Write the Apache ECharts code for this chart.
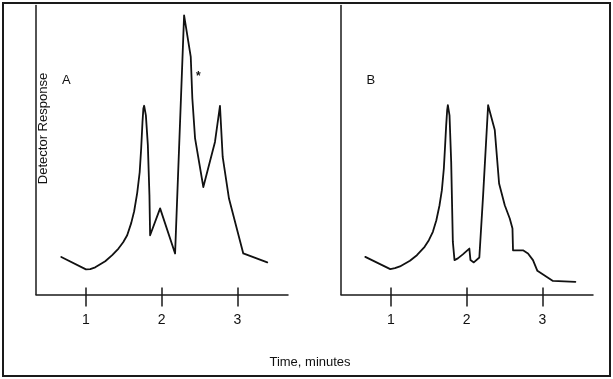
<!DOCTYPE html>
<html>
<head>
<meta charset="utf-8">
<script src="https://cdn.jsdelivr.net/npm/echarts@6/dist/echarts.min.js"></script>
<style>
html,body{margin:0;padding:0;background:#fff;}
#chart{width:613px;height:379px;}
</style>
</head>
<body>
<div id="chart"></div>
<script>
// Panel A: time (minutes) and detector response (arbitrary units)
var timeA = [0.674, 1.000, 1.057, 1.123, 1.255, 1.347, 1.430, 1.492, 1.545, 1.598, 1.637, 1.677, 1.710, 1.730, 1.747, 1.759, 1.769, 1.792, 1.818, 1.839, 1.848, 1.980, 2.178, 2.297, 2.385, 2.406, 2.442, 2.551, 2.705, 2.771, 2.807, 2.890, 3.079, 3.396];
var respA = [13.0, 8.7, 8.8, 9.4, 11.5, 13.6, 15.9, 18.1, 20.5, 24.7, 28.8, 35.1, 42.3, 50.6, 59.6, 64.4, 65.3, 62.0, 51.7, 34.4, 20.5, 29.8, 14.2, 96.6, 82.2, 67.8, 54.0, 37.2, 52.8, 65.3, 47.6, 33.2, 14.2, 11.1];
// Panel B
var timeB = [0.661, 0.991, 1.053, 1.119, 1.251, 1.343, 1.445, 1.501, 1.554, 1.600, 1.642, 1.673, 1.699, 1.716, 1.730, 1.743, 1.752, 1.774, 1.796, 1.818, 1.840, 1.884, 1.950, 2.036, 2.051, 2.095, 2.168, 2.218, 2.284, 2.372, 2.429, 2.504, 2.570, 2.606, 2.613, 2.745, 2.811, 2.877, 2.935, 3.141, 3.437];
var respB = [13.0, 8.8, 9.1, 9.7, 11.7, 13.6, 16.5, 18.8, 21.7, 25.7, 30.9, 36.1, 43.6, 51.7, 58.6, 63.8, 65.5, 62.0, 45.9, 18.2, 11.9, 12.5, 13.9, 15.9, 11.9, 11.1, 12.8, 34.4, 65.5, 56.9, 38.4, 30.9, 26.3, 22.8, 15.3, 15.3, 14.2, 11.9, 8.2, 4.7, 4.4];
var tickValues = [1, 2, 3];
var xMin = 0.34, xMax = 3.67;
var yMin = 0, yMax = 100;
var panelLabels = ['A', 'B'];
var xName = 'Time, minutes';
var yName = 'Detector Response';

function zip(a, b) { return a.map(function (v, i) { return [v, b[i]]; }); }

var FONT = "'Liberation Sans', Arial, sans-serif";
var INK = '#1a1a1a';

function xAxesFor(gi) {
  return [
    {
      gridIndex: gi, type: 'value', position: 'bottom', min: xMin, max: xMax,
      axisLine: { show: true, lineStyle: { color: INK, width: 1.5 } },
      axisTick: { show: true, inside: false, length: 12, customValues: tickValues, lineStyle: { color: INK, width: 1.5 } },
      axisLabel: { show: true, customValues: tickValues, margin: 19, fontSize: 14, color: '#111', fontFamily: FONT },
      splitLine: { show: false }
    },
    {
      gridIndex: gi, type: 'value', position: 'bottom', min: xMin, max: xMax,
      axisLine: { show: false },
      axisTick: { show: true, inside: true, length: 7, customValues: tickValues, lineStyle: { color: INK, width: 1.5 } },
      axisLabel: { show: false },
      splitLine: { show: false }
    }
  ];
}
function yAxisFor(gi) {
  return {
    gridIndex: gi, type: 'value', min: yMin, max: yMax,
    axisLine: { show: true, lineStyle: { color: INK, width: 1.5 } },
    axisTick: { show: false }, axisLabel: { show: false }, splitLine: { show: false }
  };
}
function seriesFor(idx, t, r) {
  return {
    type: 'line', xAxisIndex: idx * 2, yAxisIndex: idx,
    data: zip(t, r), showSymbol: false, smooth: false,
    lineStyle: { color: '#111', width: 1.8, join: 'round', cap: 'round' }, silent: true
  };
}

var chart = echarts.init(document.getElementById('chart'), null, { renderer: 'canvas' });
chart.setOption({
  animation: false,
  backgroundColor: '#fff',
  grid: [
    { left: 36, top: 5.5, width: 252, height: 289 },
    { left: 341, top: 5.5, width: 252, height: 289 }
  ],
  xAxis: xAxesFor(0).concat(xAxesFor(1)),
  yAxis: [yAxisFor(0), yAxisFor(1)],
  series: [seriesFor(0, timeA, respA), seriesFor(1, timeB, respB)],
  graphic: [
    { type: 'rect', shape: { x: 3, y: 3, width: 607, height: 373 }, style: { fill: 'none', stroke: INK, lineWidth: 2 }, silent: true },
    { type: 'text', x: 62, y: 80, style: { text: panelLabels[0], font: '13px ' + FONT, fill: '#111', textVerticalAlign: 'middle' } },
    { type: 'text', x: 366.5, y: 80, style: { text: panelLabels[1], font: '13px ' + FONT, fill: '#111', textVerticalAlign: 'middle' } },
    { type: 'text', x: 198.3, y: 77, style: { text: '*', font: 'bold 12px ' + FONT, fill: '#111', textAlign: 'center', textVerticalAlign: 'middle' } },
    { type: 'text', x: 310, y: 362, style: { text: xName, font: '13px ' + FONT, fill: '#111', textAlign: 'center', textVerticalAlign: 'middle' } },
    { type: 'text', x: 43, y: 128.5, rotation: Math.PI / 2, style: { text: yName, font: '13px ' + FONT, fill: '#111', textAlign: 'center', textVerticalAlign: 'middle' } }
  ]
});
</script>
</body>
</html>
